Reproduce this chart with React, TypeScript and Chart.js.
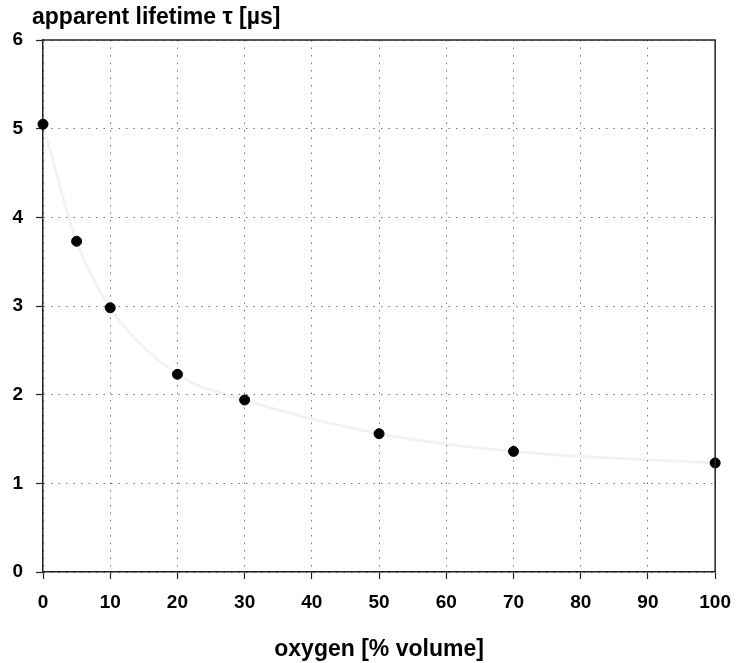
import React, { useEffect, useRef } from "react";
import { Chart, registerables } from "chart.js";

Chart.register(...registerables);

const oxygen = [0, 5, 10, 20, 30, 50, 70, 100];
const lifetime = [5.05, 3.73, 2.98, 2.23, 1.94, 1.56, 1.36, 1.23];
const yTitle = "apparent lifetime \u03c4 [\u00b5s]";
const xTitle = "oxygen [% volume]";

const FONT = "'Liberation Sans', Arial, Helvetica, sans-serif";

const framePlugin = {
  id: "frame",
  afterDraw(chart: any) {
    const { ctx, chartArea } = chart;
    ctx.save();
    ctx.setLineDash([]);
    ctx.strokeStyle = "#222";
    ctx.lineWidth = 1.5;
    ctx.beginPath();
    ctx.moveTo(chartArea.left, chartArea.top);
    ctx.lineTo(chartArea.right, chartArea.top);
    ctx.lineTo(chartArea.right, chartArea.bottom);
    ctx.stroke();
    ctx.fillStyle = "#000";
    ctx.font = `bold 23px ${FONT}`;
    ctx.textBaseline = "middle";
    ctx.textAlign = "left";
    ctx.fillText(yTitle, 32, 18);
    ctx.restore();
  },
};

const gridOpts: any = {
  color: "#777",
  lineWidth: 1,
  tickColor: "#222",
  tickLength: 7,
  tickBorderDash: [],
  tickWidth: 1.2,
};

export default function App() {
  const ref = useRef<HTMLCanvasElement>(null);
  useEffect(() => {
    if (!ref.current) return;
    const chart = new Chart(ref.current, {
      type: "scatter",
      data: {
        datasets: [
          {
            data: oxygen.map((x, i) => ({ x, y: lifetime[i] })),
            showLine: true,
            borderColor: "rgba(0,0,0,0.05)",
            borderWidth: 3,
            tension: 0.4,
            cubicInterpolationMode: "monotone",
            pointRadius: 5,
            pointBackgroundColor: "#000",
            pointBorderColor: "#000",
            pointBorderWidth: 1,
            clip: false,
          } as any,
        ],
      },
      options: {
        animation: false,
        responsive: false,
        layout: { padding: { top: 40, right: 19, left: 0, bottom: 0 } },
        plugins: { legend: { display: false }, tooltip: { enabled: false } },
        scales: {
          x: {
            type: "linear",
            min: 0,
            max: 100,
            ticks: {
              stepSize: 10,
              color: "#000",
              padding: 12,
              font: { family: FONT, size: 19, weight: "bold" },
            },
            grid: gridOpts,
            border: { color: "#222", width: 1.5, dash: [1.5, 6] } as any,
            title: {
              display: true,
              text: xTitle,
              color: "#000",
              padding: { top: 0, bottom: 0 },
              font: { family: FONT, size: 23, weight: "bold" },
            },
            afterFit(scale: any) {
              scale.height = 91;
            },
          },
          y: {
            min: 0,
            max: 6,
            ticks: {
              stepSize: 1,
              color: "#000",
              padding: 13,
              font: { family: FONT, size: 19, weight: "bold" },
            },
            grid: gridOpts,
            border: { color: "#222", width: 1.5, dash: [1.5, 6] } as any,
            afterFit(scale: any) {
              scale.width = 43;
            },
          },
        },
      },
      plugins: [framePlugin],
    });
    return () => chart.destroy();
  }, []);
  return (
    <div style={{ position: "fixed", left: 0, top: 0, width: 743, height: 663, background: "#fff" }}>
      <canvas ref={ref} width={743} height={663} />
    </div>
  );
}
